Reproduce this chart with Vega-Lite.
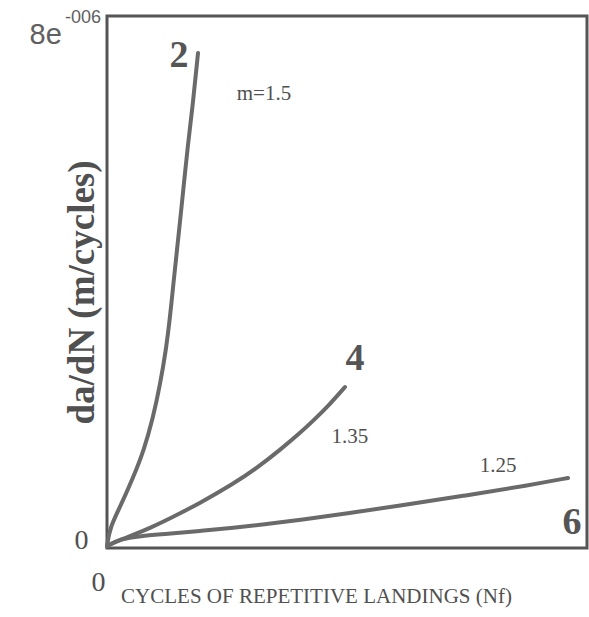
{
  "$schema": "https://vega.github.io/schema/vega-lite/v6.json",
  "width": 480,
  "height": 532,
  "autosize": {"type": "none"},
  "padding": {"left": 107, "top": 16, "right": 2, "bottom": 69},
  "background": "white",
  "config": {"view": {"stroke": "#555555", "strokeWidth": 3}},
  "datasets": {
    "curves": [
      {"curve": "2", "cycles": 0, "dadN": 0.03e-6},
      {"curve": "2", "cycles": 0.63, "dadN": 0.316e-6},
      {"curve": "2", "cycles": 2.92, "dadN": 0.647e-6},
      {"curve": "2", "cycles": 5.42, "dadN": 1.053e-6},
      {"curve": "2", "cycles": 7.71, "dadN": 1.474e-6},
      {"curve": "2", "cycles": 9.58, "dadN": 1.955e-6},
      {"curve": "2", "cycles": 11.04, "dadN": 2.451e-6},
      {"curve": "2", "cycles": 12.29, "dadN": 2.977e-6},
      {"curve": "2", "cycles": 13.13, "dadN": 3.474e-6},
      {"curve": "2", "cycles": 13.85, "dadN": 3.985e-6},
      {"curve": "2", "cycles": 14.58, "dadN": 4.481e-6},
      {"curve": "2", "cycles": 15.31, "dadN": 4.977e-6},
      {"curve": "2", "cycles": 16.04, "dadN": 5.489e-6},
      {"curve": "2", "cycles": 16.73, "dadN": 5.985e-6},
      {"curve": "2", "cycles": 17.92, "dadN": 6.692e-6},
      {"curve": "2", "cycles": 18.96, "dadN": 7.444e-6},
      {"curve": "4", "cycles": 0, "dadN": 0.03e-6},
      {"curve": "4", "cycles": 2.71, "dadN": 0.12e-6},
      {"curve": "4", "cycles": 5.42, "dadN": 0.195e-6},
      {"curve": "4", "cycles": 8.96, "dadN": 0.30e-6},
      {"curve": "4", "cycles": 13.75, "dadN": 0.466e-6},
      {"curve": "4", "cycles": 19.38, "dadN": 0.677e-6},
      {"curve": "4", "cycles": 26.25, "dadN": 0.962e-6},
      {"curve": "4", "cycles": 31.25, "dadN": 1.203e-6},
      {"curve": "4", "cycles": 36.04, "dadN": 1.474e-6},
      {"curve": "4", "cycles": 40.21, "dadN": 1.729e-6},
      {"curve": "4", "cycles": 42.92, "dadN": 1.91e-6},
      {"curve": "4", "cycles": 46.46, "dadN": 2.165e-6},
      {"curve": "4", "cycles": 49.58, "dadN": 2.421e-6},
      {"curve": "6", "cycles": 0, "dadN": 0.03e-6},
      {"curve": "6", "cycles": 2.71, "dadN": 0.135e-6},
      {"curve": "6", "cycles": 6.88, "dadN": 0.18e-6},
      {"curve": "6", "cycles": 12.5, "dadN": 0.211e-6},
      {"curve": "6", "cycles": 19.38, "dadN": 0.256e-6},
      {"curve": "6", "cycles": 26.25, "dadN": 0.301e-6},
      {"curve": "6", "cycles": 33.33, "dadN": 0.361e-6},
      {"curve": "6", "cycles": 40.21, "dadN": 0.421e-6},
      {"curve": "6", "cycles": 50.63, "dadN": 0.526e-6},
      {"curve": "6", "cycles": 60.42, "dadN": 0.632e-6},
      {"curve": "6", "cycles": 74.17, "dadN": 0.782e-6},
      {"curve": "6", "cycles": 88.13, "dadN": 0.947e-6},
      {"curve": "6", "cycles": 96.04, "dadN": 1.053e-6}
    ],
    "labels": [
      {"kind": "curve", "label": "2", "cycles": 15.0, "dadN": 7.40e-6},
      {"kind": "curve", "label": "4", "cycles": 51.67, "dadN": 2.84e-6},
      {"kind": "curve", "label": "6", "cycles": 96.88, "dadN": 0.376e-6},
      {"kind": "slope", "label": "m=1.5", "cycles": 32.7, "dadN": 6.83e-6},
      {"kind": "slope", "label": "1.35", "cycles": 50.6, "dadN": 1.67e-6},
      {"kind": "slope", "label": "1.25", "cycles": 81.5, "dadN": 1.23e-6},
      {"kind": "mant", "label": "8e", "cycles": -9.4, "dadN": 7.71e-6},
      {"kind": "exp", "label": "-006", "cycles": -8.75, "dadN": 7.97e-6}
    ]
  },
  "layer": [
    {
      "data": {"name": "curves"},
      "mark": {"type": "line", "color": "#6a6a6a", "strokeWidth": 4, "interpolate": "basis", "strokeCap": "round"},
      "encoding": {
        "x": {
          "field": "cycles", "type": "quantitative",
          "scale": {"domain": [0, 100]},
          "axis": {
            "values": [0], "labelExpr": "'0'", "grid": false, "ticks": false, "domain": false,
            "labelFont": "Liberation Serif", "labelFontSize": 28, "labelColor": "#505050",
            "labelFlush": false, "labelAlign": "center", "labelBaseline": "top", "labelPadding": 20, "labelOffset": -9,
            "title": "CYCLES OF REPETITIVE LANDINGS (Nf)",
            "titleFont": "Liberation Serif", "titleFontSize": 21, "titleFontWeight": "normal", "titleColor": "#505050",
            "titleX": 209, "titleY": 48, "titleAlign": "center", "titleBaseline": "middle"
          }
        },
        "y": {
          "field": "dadN", "type": "quantitative",
          "scale": {"domain": [0, 8e-6]},
          "axis": {
            "values": [0], "labelExpr": "'0'", "grid": false, "ticks": false, "domain": false,
            "labelFont": "Liberation Serif", "labelFontSize": 28, "labelColor": "#505050",
            "labelFlush": false, "labelBaseline": "middle", "labelPadding": 19, "labelOffset": -8,
            "title": "da/dN (m/cycles)",
            "titleFont": "Liberation Serif", "titleFontSize": 37, "titleFontWeight": "bold", "titleColor": "#505050",
            "titleX": -25, "titleY": 276, "titleAngle": -90, "titleAlign": "center", "titleBaseline": "middle"
          }
        },
        "detail": {"field": "curve"}
      }
    },
    {
      "data": {"name": "labels"},
      "transform": [{"filter": "datum.kind === 'curve'"}],
      "mark": {"type": "text", "font": "Liberation Serif", "fontSize": 38, "fontWeight": "bold", "color": "#555555", "align": "center", "baseline": "middle", "clip": false},
      "encoding": {
        "x": {"field": "cycles", "type": "quantitative"},
        "y": {"field": "dadN", "type": "quantitative"},
        "text": {"field": "label"}
      }
    },
    {
      "data": {"name": "labels"},
      "transform": [{"filter": "datum.kind === 'slope'"}],
      "mark": {"type": "text", "font": "Liberation Serif", "fontSize": 21, "color": "#505050", "align": "center", "baseline": "middle", "clip": false},
      "encoding": {
        "x": {"field": "cycles", "type": "quantitative"},
        "y": {"field": "dadN", "type": "quantitative"},
        "text": {"field": "label"}
      }
    },
    {
      "data": {"name": "labels"},
      "transform": [{"filter": "datum.kind === 'mant'"}],
      "mark": {"type": "text", "font": "Liberation Sans", "fontSize": 29, "color": "#606060", "align": "right", "baseline": "middle", "clip": false},
      "encoding": {
        "x": {"field": "cycles", "type": "quantitative"},
        "y": {"field": "dadN", "type": "quantitative"},
        "text": {"field": "label"}
      }
    },
    {
      "data": {"name": "labels"},
      "transform": [{"filter": "datum.kind === 'exp'"}],
      "mark": {"type": "text", "font": "Liberation Sans", "fontSize": 18, "color": "#606060", "align": "left", "baseline": "middle", "clip": false},
      "encoding": {
        "x": {"field": "cycles", "type": "quantitative"},
        "y": {"field": "dadN", "type": "quantitative"},
        "text": {"field": "label"}
      }
    }
  ]
}
